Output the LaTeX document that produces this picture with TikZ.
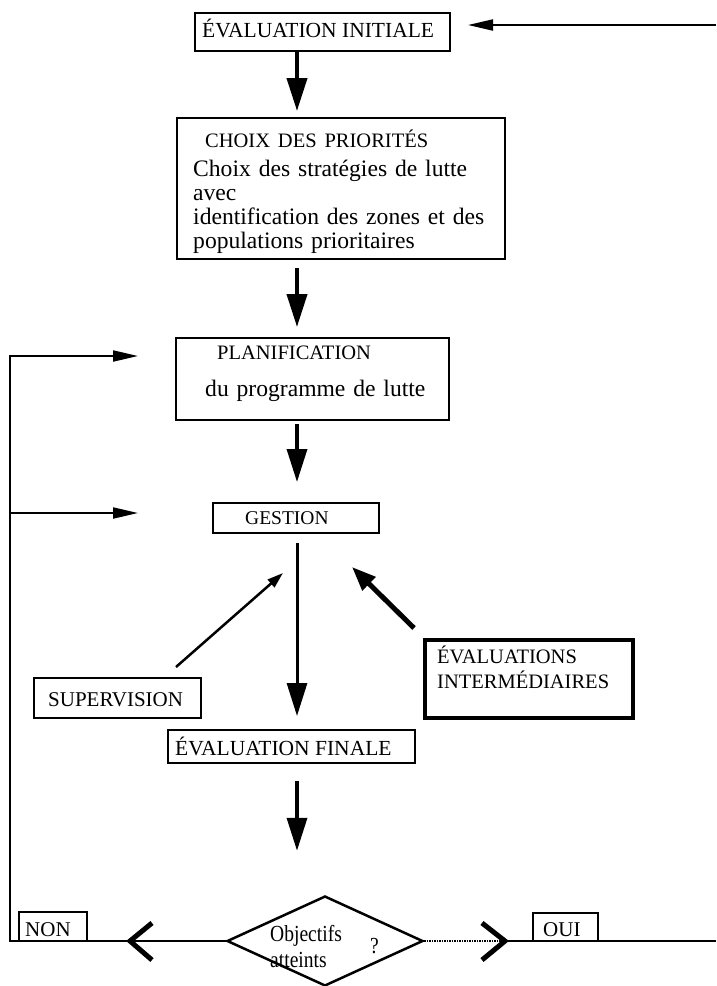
\documentclass[tikz,border=0pt]{standalone}
\usepackage{fontspec}
\setmainfont{Liberation Serif}
\newfontfamily\condserif[FakeStretch=0.85]{Liberation Serif}
\usetikzlibrary{arrows.meta,shapes.geometric}
\newcommand\lblcaps{\fontsize{20.5}{25}\selectfont}
\newcommand\lblbig{\fontsize{21.5}{25}\selectfont}
\newcommand\lblbody{\fontsize{23.6}{24}\selectfont}
\newcommand\lblcond{\condserif\fontsize{23}{23}\selectfont}

\begin{document}
\begin{tikzpicture}[x=1pt,y=-1pt,
  boxnode/.style={draw, line width=2pt, rectangle, inner sep=0pt},
  capstext/.style={font=\lblcaps, inner sep=0pt, anchor=base west},
  blocktext/.style={inner sep=0pt, anchor=base west, text width=#1, align=left},
  condtext/.style={font=\lblcond, inner sep=0pt, anchor=base west},
  flowarrow/.style={line width=3.5pt, -{Triangle[length=33pt,width=20pt]}},
  feedarrow/.style={line width=2pt, -{Triangle[length=25pt,width=11pt]}},
  chevron/.style={line width=5pt}
]
\useasboundingbox (0,0) rectangle (716,986);
\fill[white] (0,0) rectangle (716,986);

% boxes of the main chain
\node[boxnode, minimum width=255pt, minimum height=38pt] (init) at (322.5,32) {};
\node[capstext, font=\lblbig] (initT) at (202,37) {ÉVALUATION INITIALE};

\node[boxnode, minimum width=328pt, minimum height=141pt] (choix) at (341,188.5) {};
\node[blocktext=300pt, font=\lblbody] (choixT) at (193,147)
  {\hspace*{12pt}{\lblcaps CHOIX DES PRIORITÉS}\\[5pt]Choix des stratégies de lutte\\avec\\identification des zones et des\\populations prioritaires};

\node[boxnode, minimum width=273pt, minimum height=82pt] (plan) at (312.5,379) {};
\node[blocktext=240pt, font=\lblbody] (planT) at (205,359)
  {\hspace*{12pt}{\lblcaps PLANIFICATION}\\[13pt]du programme de lutte};

\node[boxnode, minimum width=166pt, minimum height=30pt] (gest) at (296,518) {};
\node[capstext, font=\fontsize{19.5}{24}\selectfont] (gestT) at (245,524) {GESTION};

\node[boxnode, minimum width=167pt, minimum height=40pt] (sup) at (117.5,698) {};
\node[capstext, font=\fontsize{21}{24}\selectfont] (supT) at (48,706) {SUPERVISION};

\node[boxnode, line width=3.5pt, minimum width=208pt, minimum height=78pt] (inter) at (529,679) {};
\node[blocktext=190pt, font=\lblcaps] (interT) at (437,663) {ÉVALUATIONS\\INTERMÉDIAIRES};

\node[boxnode, minimum width=247pt, minimum height=33pt] (fin) at (291.5,746.5) {};
\node[capstext, font=\lblbig] (finT) at (175,755) {ÉVALUATION FINALE};

% decision
\node[draw, diamond, line width=2.5pt, minimum width=196pt, minimum height=90pt, inner sep=0pt] (dia) at (325,941) {};
\node[condtext] (objT) at (270,941) {Objectifs};
\node[condtext] (attT) at (270,967) {atteints};
\node[condtext] (qT) at (370,953) {?};

\node[boxnode, minimum width=68pt, minimum height=29pt] (non) at (53,926.5) {};
\node[capstext, font=\fontsize{21}{21}\selectfont] (nonT) at (25,936) {NON};
\node[boxnode, minimum width=65pt, minimum height=28pt] (oui) at (565.5,927) {};
\node[capstext, font=\fontsize{21}{21}\selectfont] (ouiT) at (543,936) {OUI};

% main vertical flow
\coordinate (axis) at (297,0);
\draw[flowarrow, line width=4pt, shorten >=6pt] (init.south -| axis) -- (choix.north -| axis);
\draw[flowarrow, line width=4pt, shorten <=8pt, shorten >=10pt] (choix.south -| axis) -- (plan.north -| axis);
\draw[flowarrow, shorten <=3pt, shorten >=20pt] (plan.south -| axis) -- (gest.north -| axis);
\draw[flowarrow, line width=3pt, shorten <=9pt, shorten >=13pt] (gest.south -| axis) -- (fin.north -| axis);
\draw[flowarrow, shorten <=17pt, shorten >=44pt] (fin.south -| axis) -- (dia.north -| axis);

% side inputs to GESTION
\coordinate (supS) at (176,667);
\coordinate (supE) at (283,573);
\draw[line width=2.5pt, -{Triangle[length=16pt,width=10pt]}] (supS) -- (supE);
\coordinate (intS) at (414,628);
\coordinate (intE) at (352,567);
\draw[line width=5pt, -{Triangle[length=24pt,width=18pt]}] (intS) -- (intE);

% feedback loops
\coordinate (loopTL) at (10,356);
\coordinate (loopML) at (10,513);
\coordinate (loopBL) at (10,941);
\coordinate (planIn) at (138,356);
\coordinate (gestIn) at (138,513);
\coordinate (loopBR) at (716,941);
\coordinate (loopTR) at (716,25);
\coordinate (initIn) at (468,25);
\coordinate (chevL) at (130,941);
\coordinate (chevR) at (505,941);

\draw[feedarrow] (dia.west) -- (loopBL) -- (loopTL) -- (planIn);
\draw[feedarrow] (loopML) -- (gestIn);
\draw[line width=1.5pt, densely dotted] (dia.east) -- (chevR);
\draw[line width=2pt] (chevR) -- (loopBR);
\draw[feedarrow] (loopTR) -- (initIn);

\draw[chevron] (chevL) ++(22,-18) -- (chevL) -- ++(22,19);
\draw[chevron] (chevR) ++(-23,-18) -- (chevR) -- ++(-23,19);
\end{tikzpicture}
\end{document}
